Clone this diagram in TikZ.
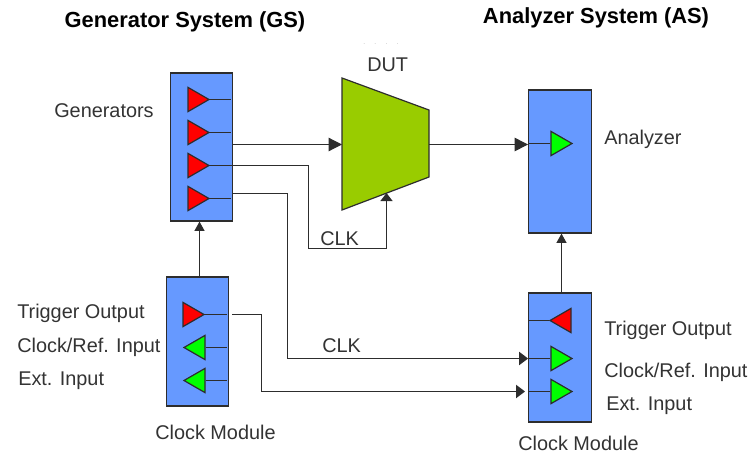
\documentclass[tikz,border=0pt]{standalone}
\usepackage{fontspec}
\setmainfont{Liberation Sans}
\usepackage{xcolor}
\usetikzlibrary{shapes.geometric,arrows.meta}
\definecolor{BoxBlue}{RGB}{102, 153, 255}
\definecolor{DutGreen}{RGB}{153, 204, 0}
\definecolor{AmpRed}{RGB}{255, 0, 0}
\definecolor{AmpGreen}{RGB}{0, 255, 0}
\definecolor{LineGrey}{RGB}{45, 45, 45}
\tikzset{
  modbox/.style={draw=LineGrey, fill=BoxBlue, line width=0.9pt, minimum width=47pt, inner sep=0pt},
  amp/.style={draw=LineGrey, isosceles triangle, isosceles triangle apex angle=60, inner sep=0pt,
    minimum height=15.75pt, line width=0.9pt},
  lab/.style={anchor=west, inner sep=0pt, text=black!80, font=\fontsize{14.9}{17}\selectfont},
  title/.style={inner sep=0pt, font=\fontsize{16.4}{18}\selectfont\bfseries},
  wire/.style={draw=LineGrey, line width=0.9pt},
  bigarr/.style={wire, -{Triangle[length=10pt,width=10pt]}},
  midarr/.style={wire, -{Triangle[length=6.75pt,width=10pt]}},
  smallarr/.style={wire, -{Triangle[length=7pt,width=7.5pt]}},
  clkarr/.style={wire, -{Triangle[length=6pt,width=9pt]}}
}
\begin{document}
\begin{tikzpicture}[x=0.75pt, y=-0.75pt]
  \useasboundingbox (0,0) rectangle (749,454);
  % Titles
  \node[title] (gstitle) at (185,22) {Generator System (GS)};
  \node[title] (astitle) at (596,18) {Analyzer System (AS)};
  % Boxes
  \node[modbox, minimum height=111pt] (gen) at (201.5,147) {};
  \node[modbox, minimum height=96.75pt] (gsclock) at (197.5,341.5) {};
  \node[modbox, minimum height=107.25pt] (ana) at (560,161.5) {};
  \node[modbox, minimum height=96.75pt] (asclock) at (560,357.5) {};
  % DUT
  \draw[wire, fill=DutGreen] (342,78) -- (429,110) -- (429,177) -- (342,210) -- cycle;
  \node[lab] (dutlab) at (367,65) {DUT};
  \node[inner sep=0pt, text=black!30, font=\tiny] (dutdots) at (381,44) {.\hspace{7pt}.\hspace{7pt}.\hspace{7pt}.};
  % Generator amps
  \node[amp, fill=AmpRed] (g1) at (195,99.5) {};
  \node[amp, fill=AmpRed] (g2) at (195,132.5) {};
  \node[amp, fill=AmpRed] (g3) at (195,165.5) {};
  \node[amp, fill=AmpRed] (g4) at (195,198.5) {};
  % Clock module amps, generator side
  \node[amp, fill=AmpRed] (gc1) at (190,314.5) {};
  \node[amp, fill=AmpGreen, shape border rotate=180] (gc2) at (198,347.5) {};
  \node[amp, fill=AmpGreen, shape border rotate=180] (gc3) at (198,380.5) {};
  % Analyzer side amps
  \node[amp, fill=AmpGreen] (a1) at (558,143.5) {};
  \node[amp, fill=AmpRed, shape border rotate=180] (ac1) at (564,320.5) {};
  \node[amp, fill=AmpGreen] (ac2) at (558,358.5) {};
  \node[amp, fill=AmpGreen] (ac3) at (558,391.5) {};
  % Stubs inside the boxes
  \coordinate (s1) at (231,99.5);
  \coordinate (s2) at (231,132.5);
  \coordinate (s4) at (231,198.5);
  \coordinate (s5) at (227,314.5);
  \coordinate (s6) at (227,347.5);
  \coordinate (s7) at (227,380.5);
  \draw[wire] (g1.apex) -- (s1);
  \draw[wire] (g2.apex) -- (s2);
  \draw[wire] (g4.apex) -- (s4);
  \draw[wire] (gc1.apex) -- (s5);
  \draw[wire] (gc2.east) -- (s6);
  \draw[wire] (gc3.east) -- (s7);
  \draw[wire] (ac1.apex) -- (ac1.apex -| asclock.west);
  \draw[wire] (ac2.west) -- (ac2.west -| asclock.west);
  \draw[wire] (ac3.west) -- (ac3.west -| asclock.west);
  \draw[wire] (a1.west) -- (a1.west -| ana.west);
  % Connectors
  \coordinate (dutin) at (342,144.5);
  \coordinate (dutout) at (429,144.5);
  \coordinate (clkin) at (386.5,193);
  \coordinate (gsout) at (233,193.5);
  \coordinate (gcout) at (232,314.5);
  \coordinate (gsup) at (199.5,277);
  \coordinate (asup) at (561.5,293);
  \draw[bigarr] (dutin -| gen.east) -- (dutin);
  \draw[bigarr] (dutout) -- (dutout -| ana.west);
  \draw[clkarr] (g3.apex) -- (308.5,165.5) -- (308.5,248.5) -| (clkin);
  \draw[midarr] (gsout) -- (287.5,193.5) -- (287.5,358.5) -- (asclock.west |- 0,358.5);
  \draw[midarr] (gcout) -- (261.5,314.5) -- (261.5,391.5) -- (525,391.5);
  \draw[smallarr] (gsup) -- (gsup |- gen.south);
  \draw[smallarr] (asup) -- (asup |- ana.south);
  % Labels
  \node[lab] (genlab) at (54,111) {Generators};
  \node[lab] (analab) at (604,139) {Analyzer};
  \node[lab] (gt) at (17,313) {Trigger Output};
  \node[lab] (gr) at (17,347) {Clock/Ref. Input};
  \node[lab] (ge) at (18,381) {Ext. Input};
  \node[lab] (gm) at (155,432) {Clock Module};
  \node[lab] (at) at (604,330) {Trigger Output};
  \node[lab] (ar) at (604,372) {Clock/Ref. Input};
  \node[lab] (ae) at (606,406) {Ext. Input};
  \node[lab] (am) at (518,443) {Clock Module};
  \node[lab] (clk1) at (320,239) {CLK};
  \node[lab] (clk2) at (322,346) {CLK};
\end{tikzpicture}
\end{document}
